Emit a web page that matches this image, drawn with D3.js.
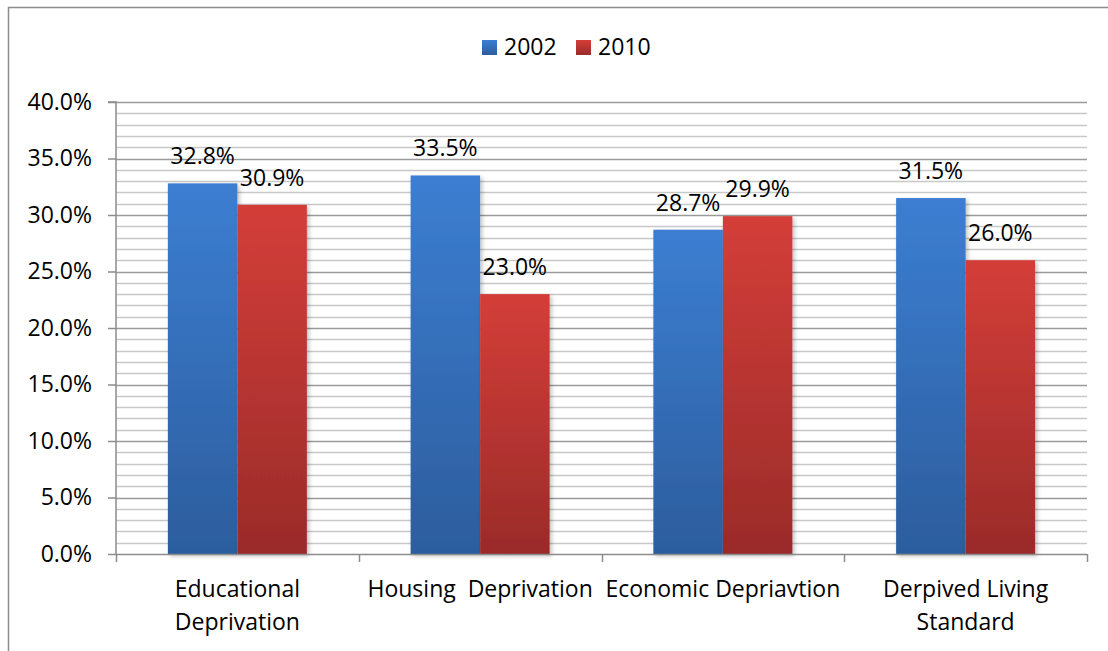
<!DOCTYPE html>
<html>
<head>
<meta charset="utf-8">
<script src="https://cdn.jsdelivr.net/npm/d3@7"></script>
<style>
  html, body { margin: 0; padding: 0; background: #fff; }
  svg { display: block; }
  text { font-family: "Open Sans", "Noto Sans", sans-serif; fill: #000; }
</style>
</head>
<body>
<svg id="chart" width="1108" height="651"></svg>
<script>
// Deprivation indicators, share of population by survey year
const categories = [
  ["Educational", "Deprivation"],
  ["Housing\u00a0\u00a0Deprivation"],
  ["Economic Depriavtion"],
  ["Derpived Living", "Standard"]
];
const seriesNames = ["2002", "2010"];
const values2002 = [32.8, 33.5, 28.7, 31.5];
const values2010 = [30.9, 23.0, 29.9, 26.0];
const yTicks = [0, 5, 10, 15, 20, 25, 30, 35, 40];

const svg = d3.select("#chart");
const W = 1108, H = 651;
const plot = { left: 116, right: 1087, top: 102, bottom: 554 };
const FS = "23px";

const defs = svg.append("defs");
const grads = [
  { id: "g2002", top: "#3C7ED2", bottom: "#2C5D9D" },
  { id: "g2010", top: "#D43E39", bottom: "#9A2B29" }
];
grads.forEach(g => {
  const lg = defs.append("linearGradient").attr("id", g.id)
    .attr("x1", 0).attr("y1", 0).attr("x2", 0).attr("y2", 1);
  lg.append("stop").attr("offset", "0%").attr("stop-color", g.top);
  lg.append("stop").attr("offset", "100%").attr("stop-color", g.bottom);
});
const sh = defs.append("filter").attr("id", "shadow")
  .attr("x", "-10%").attr("y", "-5%").attr("width", "130%").attr("height", "115%");
sh.append("feDropShadow").attr("dx", 2).attr("dy", 2).attr("stdDeviation", 2)
  .attr("flood-color", "#000").attr("flood-opacity", 0.25);

// outer frame (top and left edges)
svg.append("path")
  .attr("d", `M8.5,${H} L8.5,7.5 L${W},7.5`)
  .attr("fill", "none").attr("stroke", "#8c8c8c").attr("stroke-width", 1.5);

const y = d3.scaleLinear().domain([0, 40]).range([plot.bottom, plot.top]);
const x0 = d3.scaleBand().domain(d3.range(categories.length))
  .range([plot.left, plot.right]).paddingInner(0).paddingOuter(0);
const groupFrac = 139 / x0.bandwidth();
const x1 = d3.scaleBand().domain(seriesNames)
  .range([0, x0.bandwidth() * groupFrac]);
const groupOffset = (x0.bandwidth() - x1.range()[1]) / 2;

// minor gridlines every 1%
const g = svg.append("g");
g.selectAll("line.minor").data(d3.range(1, 41).filter(v => v % 5 !== 0))
  .join("line")
  .attr("x1", plot.left).attr("x2", plot.right)
  .attr("y1", d => Math.round(y(d)) + 0.5).attr("y2", d => Math.round(y(d)) + 0.5)
  .attr("stroke", "#c8c8c8").attr("stroke-width", 1.5);
// major gridlines
g.selectAll("line.major").data(yTicks.filter(v => v > 0))
  .join("line")
  .attr("x1", plot.left).attr("x2", plot.right)
  .attr("y1", d => Math.round(y(d)) + 0.5).attr("y2", d => Math.round(y(d)) + 0.5)
  .attr("stroke", "#9a9a9a").attr("stroke-width", 1.5);

// y axis
const yAxis = d3.axisLeft(y).tickValues(yTicks)
  .tickFormat(d => d.toFixed(1) + "%").tickSize(8).tickPadding(16);
const ya = svg.append("g").attr("transform", `translate(${plot.left},0)`).call(yAxis);
ya.select(".domain").attr("stroke", "#8c8c8c").attr("stroke-width", 1.5)
  .attr("d", `M-8,${plot.top}H0V${plot.bottom}`);
ya.selectAll(".tick line").attr("stroke", "#8c8c8c").attr("stroke-width", 1.5);
ya.selectAll(".tick text").style("font-size", FS).attr("fill", "#000");

// bars
const series = [values2002, values2010];
seriesNames.forEach((name, si) => {
  svg.append("g").selectAll("rect").data(series[si]).join("rect")
    .attr("x", (d, i) => x0(i) + groupOffset + x1(name))
    .attr("y", d => y(d))
    .attr("width", x1.bandwidth())
    .attr("height", d => y(0) - y(d))
    .attr("fill", `url(#g${name})`)
    .attr("filter", "url(#shadow)");
});

// x axis
const xAxis = d3.axisBottom(x0).tickSize(0).tickFormat("");
const xa = svg.append("g").attr("transform", `translate(0,${plot.bottom})`).call(xAxis);
xa.select(".domain").remove();
xa.append("line").attr("x1", plot.left).attr("x2", plot.right)
  .attr("y1", 0.5).attr("y2", 0.5).attr("stroke", "#8c8c8c").attr("stroke-width", 1.5);
const sepTicks = d3.range(categories.length + 1)
  .map(i => i < categories.length ? x0(i) : x0(i - 1) + x0.bandwidth());
xa.selectAll("line.sep").data(sepTicks).join("line")
  .attr("x1", d => Math.round(d) + 0.5).attr("x2", d => Math.round(d) + 0.5)
  .attr("y1", 0).attr("y2", 8)
  .attr("stroke", "#8c8c8c").attr("stroke-width", 1.5);
xa.selectAll("text.cat").data(categories).join("text")
  .attr("class", "cat")
  .attr("text-anchor", "middle")
  .style("font-size", FS)
  .each(function (lines, i) {
    const t = d3.select(this);
    lines.forEach((ln, li) => {
      t.append("tspan").attr("x", x0(i) + x0.bandwidth() / 2)
        .attr("y", 43 + li * 33).text(ln);
    });
  });

// value labels
seriesNames.forEach((name, si) => {
  svg.append("g").selectAll("text").data(series[si]).join("text")
    .attr("x", (d, i) => x0(i) + groupOffset + x1(name) + x1.bandwidth() / 2)
    .attr("y", d => y(d) - 19)
    .attr("text-anchor", "middle")
    .style("font-size", FS)
    .text(d => d.toFixed(1) + "%");
});

// legend
const legend = svg.append("g").attr("transform", "translate(482,40)");
const lx = [0, 94];
seriesNames.forEach((name, si) => {
  const lg = legend.append("g").attr("transform", `translate(${lx[si]},0)`);
  lg.append("rect").attr("width", 15).attr("height", 15).attr("fill", `url(#g${name})`);
  lg.append("text").attr("x", 22).attr("y", 15).style("font-size", FS).text(name);
});
</script>
</body>
</html>
